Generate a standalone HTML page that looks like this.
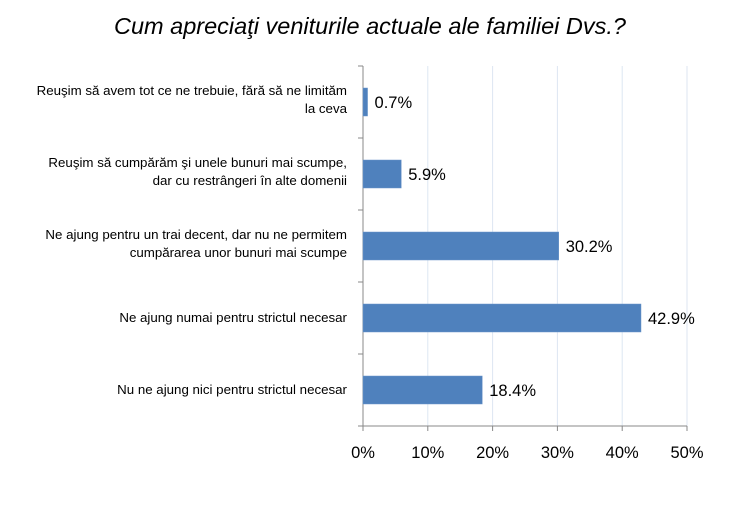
<!DOCTYPE html>
<html><head><meta charset="utf-8"><style>
body{margin:0;background:#fff;width:740px;height:510px;overflow:hidden;font-family:"Liberation Sans",sans-serif;}
</style></head><body>
<svg width="740" height="510" id="chart">
<text x="370" y="34" text-anchor="middle" font-size="23.5" font-style="italic" fill="#000">Cum apreciaţi veniturile actuale ale familiei Dvs.?</text>
</svg>
<script>
const categories=[["Reuşim să avem tot ce ne trebuie, fără să ne limităm","la ceva"],["Reuşim să cumpărăm şi unele bunuri mai scumpe,","dar cu restrângeri în alte domenii"],["Ne ajung pentru un trai decent, dar nu ne permitem","cumpărarea unor bunuri mai scumpe"],["Ne ajung numai pentru strictul necesar"],["Nu ne ajung nici pentru strictul necesar"]];
const values=[0.7,5.9,30.2,42.9,18.4];
const ticks=[0,10,20,30,40,50];
const svg=document.getElementById('chart');const NS='http://www.w3.org/2000/svg';
const x0=363,x1=687,y0=66,y1=426,band=(y1-y0)/categories.length,bh=28;
const xs=v=>x0+(v/50)*(x1-x0);
function mk(t,a){const e=document.createElementNS(NS,t);for(const k in a)e.setAttribute(k,a[k]);svg.appendChild(e);return e;}
ticks.forEach(t=>{
 if(t>0){const g=mk('line',{x1:xs(t),x2:xs(t),y1:y0,y2:y1,stroke:'#dde6f2','stroke-width':1});
 
 }
 const tk=mk('line',{x1:xs(t),x2:xs(t),y1:y1,y2:y1+5,stroke:'#888'});
 
 
 const l=mk('text',{x:xs(t),y:y1+32,'text-anchor':'middle','font-size':16.5,fill:'#000'});l.textContent=t+'%';
 
 
});
for(let i=0;i<=categories.length;i++){const tk=mk('line',{x1:x0-5,x2:x0,y1:y0+i*band,y2:y0+i*band,stroke:'#888'});
 
 }
const ax=mk('line',{x1:x0,x2:x0,y1:y0,y2:y1,stroke:'#888'});


const axx=mk('line',{x1:x0-5,x2:x1,y1:y1,y2:y1,stroke:'#888'});


categories.forEach((c,i)=>{
 const cy=y0+band*(i+0.5);
 const r=mk('rect',{x:x0,y:cy-bh/2,width:xs(values[i])-x0,height:bh,fill:'#4f81bd',stroke:'#6a95c9','stroke-width':0.5});
 
 
 const v=mk('text',{x:xs(values[i])+7,y:cy+6,'font-size':16.5,fill:'#000'});v.textContent=values[i]+'%';
 
 
 const t=mk('text',{x:347,'text-anchor':'end','font-size':13.3,fill:'#000'});
 
 
 c.forEach((line,j)=>{const s=document.createElementNS(NS,'tspan');s.setAttribute('x',347);s.setAttribute('y',cy+4+(j-(c.length-1)/2)*18-(c.length>1?2:0));s.textContent=line;t.appendChild(s);});
});
</script>
</body></html>
